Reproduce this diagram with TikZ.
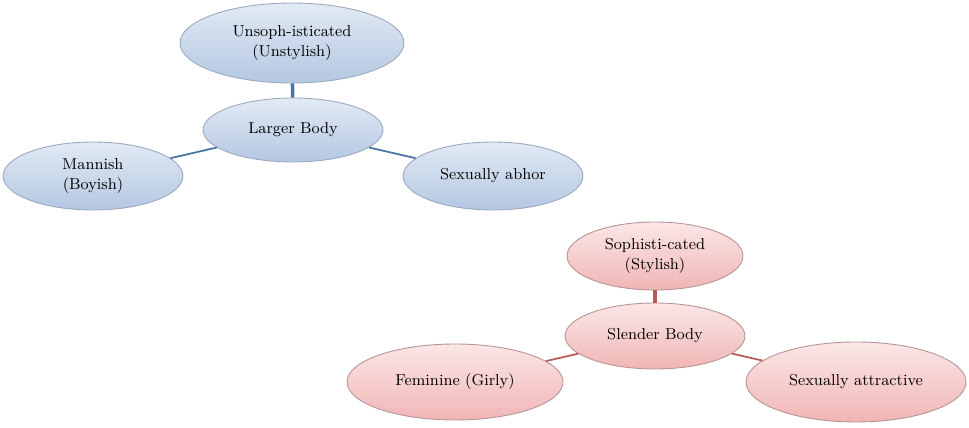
\documentclass[tikz,border=0pt]{standalone}
\usetikzlibrary{shapes.geometric}

\definecolor{bluetop}{HTML}{E2EAF4}
\definecolor{bluebot}{HTML}{B4C7E2}
\definecolor{blueedge}{HTML}{9AA9BE}
\definecolor{blueline}{HTML}{4A74A8}
\definecolor{redtop}{HTML}{FBE7E7}
\definecolor{redbot}{HTML}{F1B5B5}
\definecolor{rededge}{HTML}{B49494}
\definecolor{redline}{HTML}{BA5A5B}

\begin{document}
\begin{tikzpicture}[x=0.02cm,y=-0.02cm,font=\small,
 bub/.style={ellipse,draw,inner sep=0pt,align=center,line width=0.5pt},
 bl/.style={bub,draw=blueedge,top color=bluetop,bottom color=bluebot},
 rd/.style={bub,draw=rededge,top color=redtop,bottom color=redbot},
 blk/.style={draw=blueline,line width=1pt},
 rdk/.style={draw=redline,line width=1pt}]
\useasboundingbox (0,0) rectangle (969,428);
% larger body group
\node[bl,minimum width=4.48cm,minimum height=1.6cm] (unsoph) at (292,43) {Unsoph-isticated\\(Unstylish)};
\node[bl,minimum width=3.6cm,minimum height=1.28cm] (larger) at (293,130) {Larger Body};
\node[bl,minimum width=3.6cm,minimum height=1.36cm] (mannish) at (93,176) {Mannish\\(Boyish)};
\node[bl,minimum width=3.6cm,minimum height=1.36cm] (abhor) at (493,176) {Sexually abhor};
\draw[blk,line width=2pt] (unsoph) -- (larger);
\draw[blk] (larger) -- (mannish);
\draw[blk] (larger) -- (abhor);
% slender body group
\node[rd,minimum width=3.52cm,minimum height=1.36cm] (soph) at (655,256) {Sophisti-cated\\(Stylish)};
\node[rd,minimum width=3.6cm,minimum height=1.32cm] (slender) at (655,336) {Slender Body};
\node[rd,minimum width=4.32cm,minimum height=1.52cm] (fem) at (455,382) {Feminine (Girly)};
\node[rd,minimum width=4.4cm,minimum height=1.6cm] (attr) at (856,382) {Sexually attractive};
\draw[rdk,line width=2pt] (soph) -- (slender);
\draw[rdk] (slender) -- (fem);
\draw[rdk] (slender) -- (attr);
\end{tikzpicture}
\end{document}
